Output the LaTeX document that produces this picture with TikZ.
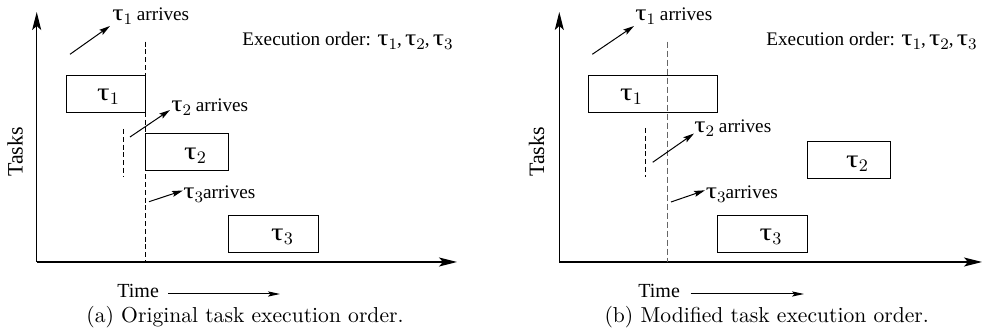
\documentclass[tikz,border=0pt]{standalone}
\usepackage{graphicx}
\usepackage{fontspec}
\newfontfamily\tf{Liberation Serif}
\usetikzlibrary{arrows.meta}
\newcommand\tk[1]{\scalebox{1.22}[1.0]{\fontsize{11.5}{12}\selectfont τ}\raisebox{-0.45ex}{\rmfamily\fontsize{8}{8}\selectfont #1}}
\newcommand\tkb[1]{\scalebox{1.25}[1.0]{\fontsize{12.5}{13}\selectfont τ}\raisebox{-0.45ex}{\rmfamily\fontsize{8.8}{9}\selectfont #1}}
\begin{document}
\begin{tikzpicture}[x=0.5pt,y=-0.5pt,
  axis/.style={line width=0.6pt,-{Stealth[length=9pt,width=4.5pt,inset=2pt]}},
  arr/.style={line width=0.5pt,-{Stealth[length=5.5pt,width=3pt,inset=1pt]}},
  tarr/.style={line width=0.5pt,-{Stealth[length=6pt,width=2.6pt,inset=1.2pt]}},
  taskbox/.style={draw,line width=0.5pt,inner sep=0pt,minimum height=18.4pt},
  lbl/.style={font=\tf\fontsize{9.6}{12}\selectfont,inner sep=0pt,anchor=base west},
  boxlbl/.style={font=\tf\fontsize{10.5}{14}\selectfont,inner sep=0pt},
  captxt/.style={font=\fontsize{10.8}{13}\selectfont,inner sep=0pt,anchor=base},
  vdash/.style={line width=0.5pt,dash pattern=on 2.5pt off 1.4pt},
  gdash/.style={line width=0.5pt,draw=black!60,dash pattern=on 3pt off 1.5pt}]
\useasboundingbox (0,0) rectangle (1000,335);

% ---------------- left panel ----------------
\coordinate (Lo) at (36.7,262);
\coordinate (Ly) at (36.7,12);
\coordinate (Lx) at (457,262);
\draw[axis] (Lo) -- (Ly);
\draw[axis] (Lo) -- (Lx);

\node[taskbox,minimum width=39.3pt] (La) at (106,93.8) {};
\node[taskbox,minimum width=41.35pt] (Lb) at (186.7,151.7) {};
\node[taskbox,minimum width=45pt] (Lc) at (273,234.3) {};
\node[boxlbl] (Lta) at (108,97) {\tkb1};
\node[boxlbl] (Ltb) at (195,156) {\tkb2};
\node[boxlbl] (Ltc) at (282,237) {\tkb3};

\coordinate (Ld1) at (145.3,41.7);
\coordinate (Ld2) at (145.3,262);
\draw[vdash] (Ld1) -- (Ld2);
\coordinate (Ls1) at (123,129);
\coordinate (Ls2) at (123,177);
\draw[vdash] (Ls1) -- (Ls2);

\node[lbl] (La1) at (112,21) {\tk1 arrives};
\node[lbl] (La2) at (171,112) {\tk2 arrives};
\node[lbl] (La3) at (183,199) {\tk3arrives};
\coordinate (Lp1) at (70,54.3);
\coordinate (Lq1) at (110,26);
\coordinate (Lp2) at (130,137);
\coordinate (Lq2) at (170,110);
\coordinate (Lp3) at (149,201.7);
\coordinate (Lq3) at (183,190.5);
\draw[arr] (Lp1) -- (Lq1);
\draw[arr] (Lp2) -- (Lq2);
\draw[arr] (Lp3) -- (Lq3);

\node[lbl] (Lex) at (242,46) {Execution order: \tk1,\,\tk2,\,\tk3};
\node[lbl,rotate=90,anchor=center,font=\tf\fontsize{11}{12}\selectfont] (Ltasks) at (15,152) {Tasks};
\node[lbl,font=\tf\fontsize{10}{12}\selectfont] (Ltime) at (117,298) {Time};
\coordinate (Lt1) at (168,294);
\coordinate (Lt2) at (280,294);
\draw[tarr] (Lt1) -- (Lt2);
\node[captxt] (Lcap) at (245,323) {(a) Original task execution order.};

% ---------------- right panel ----------------
\coordinate (Ro) at (559.3,262);
\coordinate (Ry) at (559.3,12);
\coordinate (Rx) at (982,262);
\draw[axis] (Ro) -- (Ry);
\draw[axis] (Ro) -- (Rx);

\node[taskbox,minimum width=64.5pt] (Ra) at (652.8,93.8) {};
\node[taskbox,minimum width=41.7pt] (Rb) at (849,160) {};
\node[taskbox,minimum width=45.15pt] (Rc) at (762.2,234.3) {};
\node[boxlbl] (Rta) at (631,97) {\tkb1};
\node[boxlbl] (Rtb) at (857,164) {\tkb2};
\node[boxlbl] (Rtc) at (770.5,237) {\tkb3};

\coordinate (Rd1) at (667.7,41.7);
\coordinate (Rd2) at (667.7,262);
\draw[gdash] (Rd1) -- (Rd2);
\coordinate (Rs1) at (645,128);
\coordinate (Rs2) at (645,177);
\draw[vdash] (Rs1) -- (Rs2);

\node[lbl] (Ra1) at (635,21) {\tk1 arrives};
\node[lbl] (Ra2) at (694,133) {\tk2 arrives};
\node[lbl] (Ra3) at (705.5,199) {\tk3arrives};
\coordinate (Rp1) at (592.3,54.3);
\coordinate (Rq1) at (634,26);
\coordinate (Rp2) at (652.7,162.3);
\coordinate (Rq2) at (694,133.5);
\coordinate (Rp3) at (671,202);
\coordinate (Rq3) at (705,190.3);
\draw[arr] (Rp1) -- (Rq1);
\draw[arr] (Rp2) -- (Rq2);
\draw[arr] (Rp3) -- (Rq3);

\node[lbl] (Rex) at (766,46) {Execution order: \tk1,\,\tk2,\,\tk3};
\node[lbl,rotate=90,anchor=center,font=\tf\fontsize{11}{12}\selectfont] (Rtasks) at (536.7,152) {Tasks};
\node[lbl,font=\tf\fontsize{10}{12}\selectfont] (Rtime) at (638,298) {Time};
\coordinate (Rt1) at (690.7,294);
\coordinate (Rt2) at (804,294);
\draw[tarr] (Rt1) -- (Rt2);
\node[captxt] (Rcap) at (766.7,323) {(b) Modified task execution order.};
\end{tikzpicture}
\end{document}
